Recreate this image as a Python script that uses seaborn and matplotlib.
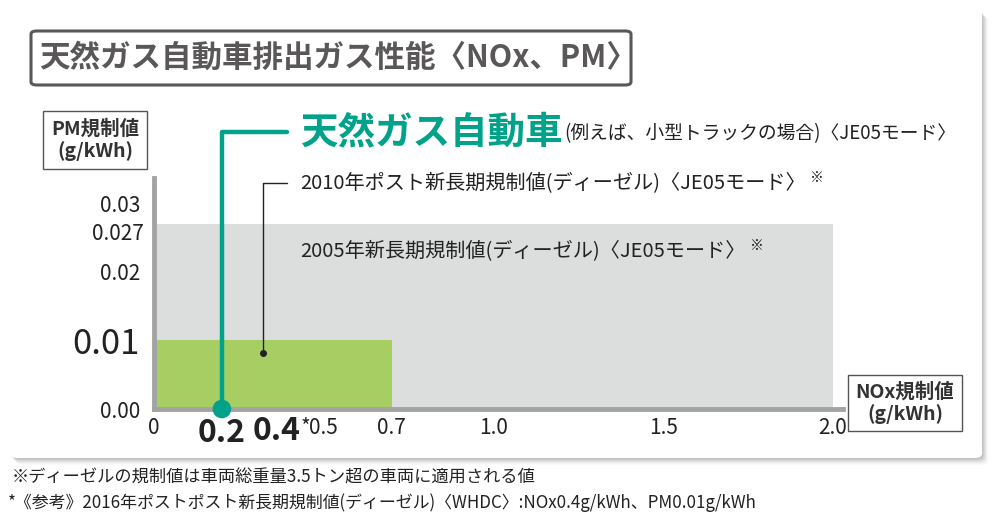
import matplotlib
matplotlib.use("Agg")
import matplotlib.pyplot as plt
import seaborn as sns
import pandas as pd
from matplotlib.patches import FancyBboxPatch

# --- data ---
regulations = ["2005年新長期規制値", "2010年ポスト新長期規制値"]
nox_limits = [2.0, 0.7]          # g/kWh
pm_limits = [0.027, 0.01]        # g/kWh
reg_colors = ["#dcdddd", "#a6ce63"]

cng_nox = [0.2]
cng_pm = [0.0]

x_ticks = [0, 0.2, 0.4, 0.5, 0.7, 1.0, 1.5, 2.0]
x_labels = ["0", "0.2", "0.4", "0.5", "0.7", "1.0", "1.5", "2.0"]
x_marks = [0.4, 0.5, 1.0, 1.5]
y_ticks = [0.0, 0.01, 0.02, 0.027, 0.03]
y_labels = ["0.00", "0.01", "0.02", "0.027", "0.03"]
y_marks = [0.02, 0.03]

df = pd.DataFrame({"規制": regulations, "NOx": nox_limits, "PM": pm_limits})

sns.set_theme(style="white")
plt.rcParams["font.family"] = ["Noto Sans CJK JP", "DejaVu Sans"]

W, H = 1000, 515
fig = plt.figure(figsize=(W / 100, H / 100), dpi=100)
fig.patch.set_facecolor("white")


def fx(x):
    return x / W


def fy(y):
    return 1 - y / H


# card with soft shadow
for i, a in enumerate([0.05, 0.05, 0.045, 0.04, 0.035, 0.025, 0.02]):
    off = i + 1
    fig.patches.append(FancyBboxPatch(
        (fx(10 + off * 0.9), fy(458 + off * 1.0)), fx(972), 448 / H,
        boxstyle="round,pad=0,rounding_size=0.008", transform=fig.transFigure,
        facecolor="black", edgecolor="none", alpha=a, zorder=0))
fig.patches.append(FancyBboxPatch(
    (fx(10), fy(458)), fx(972), 448 / H,
    boxstyle="round,pad=0,rounding_size=0.008", transform=fig.transFigure,
    facecolor="white", edgecolor="none", zorder=1))

# title box
fig.patches.append(FancyBboxPatch(
    (fx(31), fy(85)), fx(600), 54 / H,
    boxstyle="round,pad=0,rounding_size=0.006", transform=fig.transFigure,
    facecolor="white", edgecolor="#595757", linewidth=2.2, zorder=2))
fig.text(fx(39), fy(58), "天然ガス自動車排出ガス性能〈NOx、PM〉", fontsize=22,
         fontweight="bold", color="#595757", va="center", ha="left", zorder=3)

# axes
ax = fig.add_axes([fx(154), fy(409), 2.03 * 339.5 / W, 231 / H])
ax.set_facecolor("none")
ax.set_zorder(2)
ax.set_xlim(0, 2.03)
ax.set_ylim(0, 0.0337)

for _, row in df.iterrows():
    ax.bar(0, row["PM"], width=row["NOx"], align="edge",
           color=reg_colors[regulations.index(row["規制"])], linewidth=0, zorder=1)

sns.scatterplot(x=cng_nox, y=cng_pm, ax=ax, s=180, color="#00a38a",
                edgecolor="none", zorder=6, clip_on=False, legend=False)

for side in ["top", "right"]:
    ax.spines[side].set_visible(False)
for side in ["left", "bottom"]:
    ax.spines[side].set_color("#a3a3a3")
    ax.spines[side].set_linewidth(3.5)
    ax.spines[side].set_zorder(3)

# labels that need a nudge are drawn as separate texts (offsets in px)
x_shifted = {"0.4": (-13, 0)}
y_shifted = {"0.027": (0, -10)}

ax.set_xticks(x_ticks)
ax.set_xticklabels(["" if s in x_shifted else s for s in x_labels])
ax.set_yticks(y_ticks)
ax.set_yticklabels(["" if s in y_shifted else s for s in y_labels])
ax.set_xticks(x_marks, minor=True)
ax.set_yticks(y_marks, minor=True)
ax.tick_params(axis="both", which="major", length=0, labelsize=15, colors="#222222")
ax.tick_params(axis="x", which="major", pad=6)
ax.tick_params(axis="y", which="major", pad=10)
ax.tick_params(axis="both", which="minor", direction="in", length=9, width=1,
               color="#333333")
ax.tick_params(axis="x", which="minor", bottom=True)
ax.tick_params(axis="y", which="minor", left=True)

for lab in ax.get_xticklabels():
    if lab.get_text() == "0.2":
        lab.set_fontsize(23)
        lab.set_fontweight("bold")
for lab in ax.get_yticklabels():
    if lab.get_text() == "0.01":
        lab.set_fontsize(25)

for val, s in zip(x_ticks, x_labels):
    if s in x_shifted:
        dx, dy = x_shifted[s]
        t04 = ax.annotate(s, xy=(val, 0), xycoords="data", xytext=(dx * 0.72, -4.5),
                          textcoords="offset points", fontsize=23, fontweight="bold",
                          ha="center", va="top", color="#222222", annotation_clip=False)
        ax.annotate("*", xy=(1, 0.95), xycoords=t04, xytext=(0, 0),
                    textcoords="offset points", fontsize=15, ha="left", va="top",
                    color="#222222", annotation_clip=False)
for val, s in zip(y_ticks, y_labels):
    if s in y_shifted:
        dx, dy = y_shifted[s]
        ax.annotate(s, xy=(0, val), xycoords="data", xytext=(-10 * 0.72, dy * 0.72),
                    textcoords="offset points", fontsize=15,
                    ha="right", va="center", color="#222222", annotation_clip=False)

# axis unit boxes
box = dict(boxstyle="square,pad=0.4", facecolor="white", edgecolor="#555555", linewidth=1)
fig.text(fx(95), fy(140), "PM規制値\n(g/kWh)", fontsize=14, fontweight="bold",
         ha="center", va="center", linespacing=1.2, bbox=box, color="#333333")
fig.text(fx(905), fy(403), "NOx規制値\n(g/kWh)", fontsize=14, fontweight="bold",
         ha="center", va="center", linespacing=1.1,
         bbox=dict(box, pad=0.3), color="#333333")

# natural gas vehicle label with leader
ax.annotate("", xy=(cng_nox[0], cng_pm[0]), xycoords="data",
            xytext=(fx(287), fy(132)), textcoords="figure fraction",
            arrowprops=dict(arrowstyle="-", color="#00a38a", lw=3.2,
                            connectionstyle="angle,angleA=0,angleB=90,rad=0",
                            shrinkA=0, shrinkB=0), zorder=5, annotation_clip=False)
t1 = fig.text(fx(300), fy(132), "天然ガス自動車", fontsize=27, fontweight="bold",
              color="#00a38a", ha="left", va="center")
ax.annotate("(例えば、小型トラックの場合)〈JE05モード〉", xy=(1, 0.2),
            xycoords=t1, xytext=(1, 0), textcoords="offset points",
            fontsize=13.5, ha="left", va="bottom", color="#222222",
            annotation_clip=False)

# 2010 regulation label with leader
anchor = (nox_limits[1] * 0.46, pm_limits[1] * 0.82)
ax.plot(*anchor, "o", color="#222222", ms=4, zorder=5)
ax.annotate("", xy=anchor, xycoords="data",
            xytext=(fx(287), fy(183)), textcoords="figure fraction",
            arrowprops=dict(arrowstyle="-", color="#222222", lw=1,
                            connectionstyle="angle,angleA=0,angleB=90,rad=0",
                            shrinkA=0, shrinkB=0), zorder=5, annotation_clip=False)
t2 = fig.text(fx(300), fy(183), "2010年ポスト新長期規制値(ディーゼル)〈JE05モード〉",
              fontsize=14.5, ha="left", va="center", color="#222222")
ax.annotate("※", xy=(1, 1), xycoords=t2, xytext=(3, 1),
            textcoords="offset points", fontsize=10, ha="left",
            va="top", color="#222222", annotation_clip=False)

t3 = fig.text(fx(300), fy(251), "2005年新長期規制値(ディーゼル)〈JE05モード〉",
              fontsize=14.5, ha="left", va="center", color="#222222", zorder=4)
ax.annotate("※", xy=(1, 1), xycoords=t3, xytext=(3, 1),
            textcoords="offset points", fontsize=10, ha="left",
            va="top", color="#222222", annotation_clip=False)

# footnotes
fig.text(fx(12), fy(478), "※ディーゼルの規制値は車両総重量3.5トン超の車両に適用される値",
         fontsize=12.4, ha="left", va="center", color="#222222")
fig.text(fx(8), fy(503),
         "*《参考》2016年ポストポスト新長期規制値(ディーゼル)〈WHDC〉:NOx0.4g/kWh、PM0.01g/kWh",
         fontsize=12.2, ha="left", va="center", color="#222222")

fig.savefig("out.png", dpi=100)
